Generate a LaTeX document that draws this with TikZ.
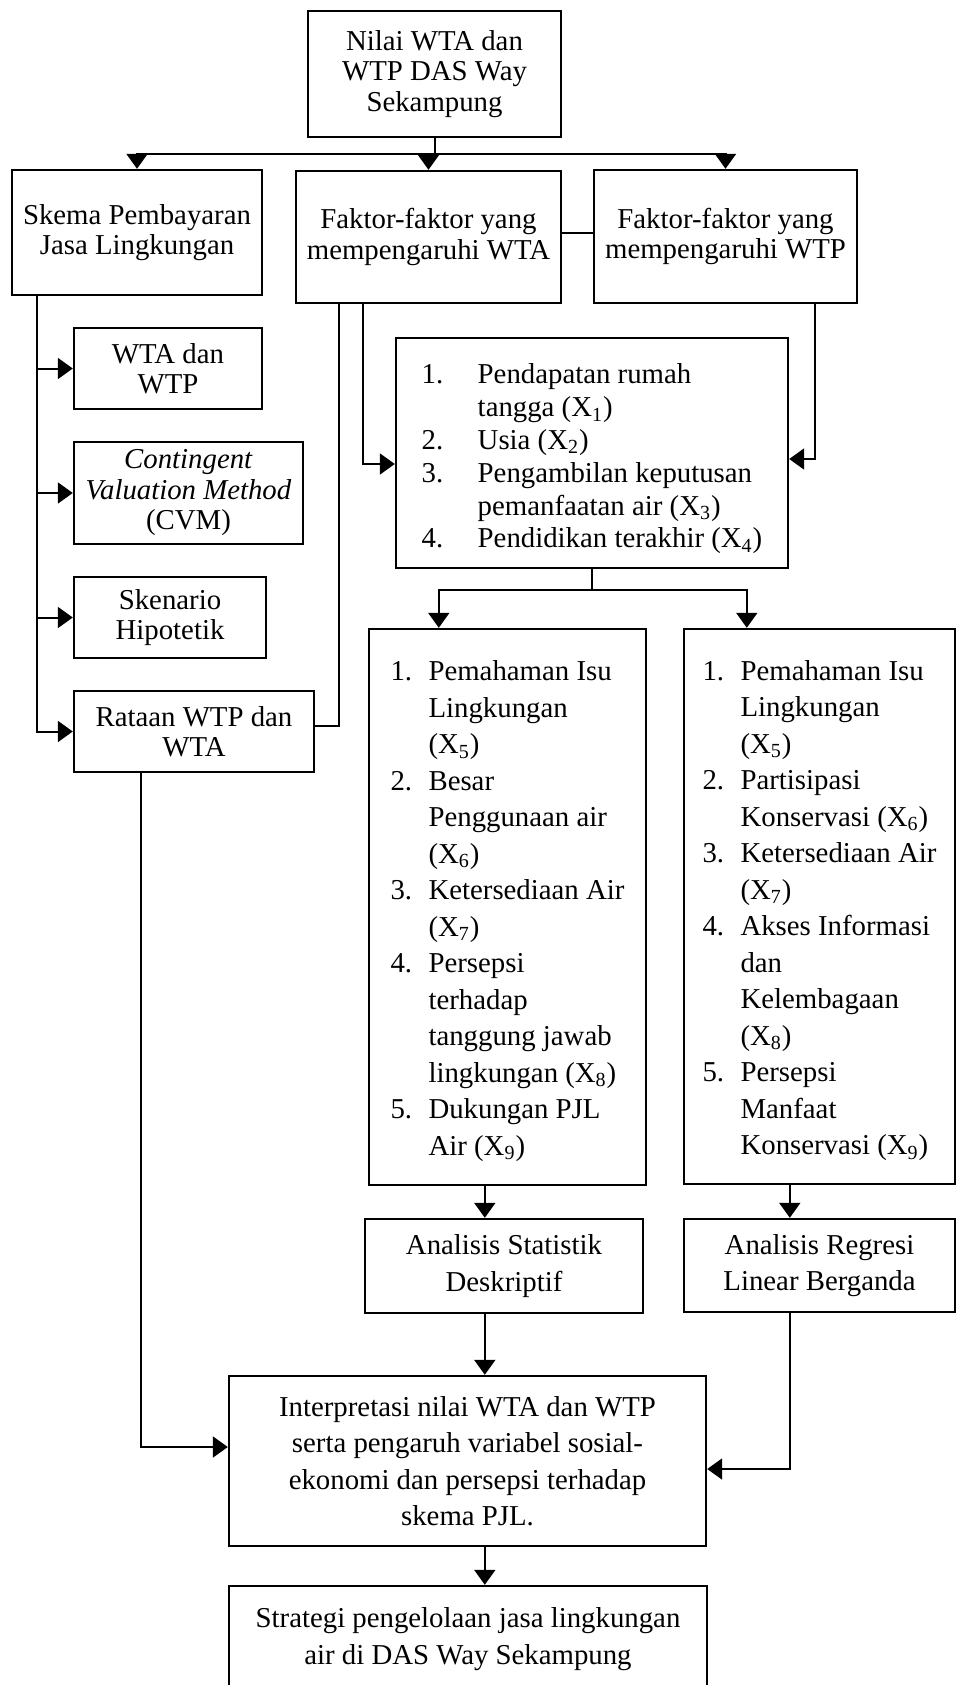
\documentclass[tikz,border=0pt]{standalone}
\usepackage{fontspec}
\setmainfont{Liberation Serif}
\usetikzlibrary{arrows.meta,calc}
\newcommand\fsA{\fontsize{14.4}{15.25}\selectfont}
\newcommand\fsB{\fontsize{14.4}{16.4}\selectfont}
\newcommand\fsC{\fontsize{14.4}{18.25}\selectfont}
\newcommand\itmL[1]{\makebox[28pt][l]{#1.}}
\newcommand\itmM[1]{\makebox[19pt][l]{#1.}}
\newcommand\indL{\hspace*{28pt}}
\newcommand\indM{\hspace*{19pt}}
\newcommand\Xs[1]{(X\textsubscript{#1})}
\begin{document}
\begin{tikzpicture}[x=0.5pt,y=-0.5pt,
  box/.style={draw, line width=1.2pt, inner sep=0pt, align=center, font=\fsA},
  listbox/.style={box, align=left},
  conn/.style={line width=1pt},
  arr/.style={conn, -{Triangle[length=7.5pt,width=10.5pt]}}]
\useasboundingbox (0,0) rectangle (956,1685);

% nodes
\node[box, minimum width=126.5pt, minimum height=63pt] (T) at (434.5,74)
  {Nilai WTA dan\\WTP DAS Way\\Sekampung};
\node[box, minimum width=125pt, minimum height=62.5pt] (S) at (137,232.5)
  {Skema Pembayaran\\Jasa Lingkungan};
\node[box, minimum width=132.5pt, minimum height=66pt] (A) at (428.5,237)
  {Faktor-faktor yang\\mempengaruhi WTA};
\node[box, minimum width=131.5pt, minimum height=66.5pt] (P) at (725.5,236.5)
  {Faktor-faktor yang\\mempengaruhi WTP};
\node[box, minimum width=94pt, minimum height=40.5pt] (W1) at (168,368.5)
  {WTA dan\\WTP};
\node[box, minimum width=114.5pt, minimum height=51pt] (W2) at (188.5,493)
  {\textit{Contingent}\\\textit{Valuation Method}\\(CVM)};
\node[box, minimum width=96pt, minimum height=40.5pt] (W3) at (170,617.5)
  {Skenario\\Hipotetik};
\node[box, minimum width=120pt, minimum height=40.5pt] (W4) at (194,731.5)
  {Rataan WTP dan\\WTA};
\node[listbox, font=\fsB, minimum width=196pt, minimum height=115pt] (L) at (592,453)
  {\rule{0pt}{16pt}\itmL{1}Pendapatan rumah\\
   \indL tangga \Xs{1}\\
   \itmL{2}Usia \Xs{2}\\
   \itmL{3}Pengambilan keputusan\\
   \indL pemanfaatan air \Xs{3}\\
   \itmL{4}Pendidikan terakhir \Xs{4}};
\node[listbox, font=\fsC, minimum width=138.5pt, minimum height=278pt] (M1) at (507.5,907)
  {\rule{0pt}{14pt}\itmM{1}Pemahaman Isu\\
   \indM Lingkungan\\
   \indM \Xs{5}\\
   \itmM{2}Besar\\
   \indM Penggunaan air\\
   \indM \Xs{6}\\
   \itmM{3}Ketersediaan Air\\
   \indM \Xs{7}\\
   \itmM{4}Persepsi\\
   \indM terhadap\\
   \indM tanggung jawab\\
   \indM lingkungan \Xs{8}\\
   \itmM{5}Dukungan PJL\\
   \indM Air \Xs{9}};
\node[listbox, font=\fsC, minimum width=135.5pt, minimum height=277.5pt] (M2) at (819.5,906.5)
  {\rule{0pt}{14pt}\itmM{1}Pemahaman Isu\\
   \indM Lingkungan\\
   \indM \Xs{5}\\
   \itmM{2}Partisipasi\\
   \indM Konservasi \Xs{6}\\
   \itmM{3}Ketersediaan Air\\
   \indM \Xs{7}\\
   \itmM{4}Akses Informasi\\
   \indM dan\\
   \indM Kelembagaan\\
   \indM \Xs{8}\\
   \itmM{5}Persepsi\\
   \indM Manfaat\\
   \indM Konservasi \Xs{9}};
\node[box, font=\fsC, minimum width=139pt, minimum height=47pt] (ST) at (504,1266)
  {Analisis Statistik\\Deskriptif};
\node[box, font=\fsC, minimum width=135.5pt, minimum height=46.5pt] (RG) at (819.5,1265.5)
  {Analisis Regresi\\Linear Berganda};
\node[box, font=\fsC, minimum width=238.5pt, minimum height=85pt] (IN) at (467.5,1461)
  {Interpretasi nilai WTA dan WTP\\serta pengaruh variabel sosial-\\ekonomi dan persepsi terhadap\\skema PJL.};
\node[box, font=\fsC, minimum width=239pt, minimum height=53pt] (SG) at (468,1639)
  {Strategi pengelolaan jasa lingkungan\\air di DAS Way Sekampung};

% top distribution
\coordinate (tbar) at ($(T.south)+(0,16)$);
\draw[conn] (T.south) -- (tbar);
\draw[arr] (tbar) -| (S.north);
\draw[arr] (tbar) -| (P.north);
\draw[arr] (tbar -| A.north) -- (A.north);
% A - P link
\coordinate (ap) at ($(A.east)+(0,-4)$);
\draw[conn] (ap) -- (ap -| P.west);
% Skema trunk
\coordinate (sk) at ($(S.south west)+(26,0)$);
\draw[arr] (sk) |- (W4.west);
\foreach \n in {W1,W2,W3} \draw[arr] (sk |- \n.west) -- (\n.west);
% from A
\coordinate (a1) at ($(A.south west)+(44,0)$);
\coordinate (a2) at ($(A.south west)+(68,0)$);
\coordinate (w4e) at ($(W4.east)+(0,-5.5)$);
\draw[conn] (a1) |- (w4e);
\coordinate (le) at ($(L.west)+(0,11)$);
\draw[arr] (a2) |- (le);
% from P
\coordinate (p1) at ($(P.south west)+(222,0)$);
\coordinate (lr) at ($(L.east)+(0,6)$);
\draw[arr] (p1) |- (lr);
% L to M1, M2
\coordinate (lbar) at ($(L.south)+(0,21)$);
\coordinate (m1t) at ($(M1.north west)+(71,0)$);
\coordinate (m2t) at ($(M2.north west)+(64,0)$);
\draw[conn] (L.south) -- (lbar);
\draw[arr] (lbar) -| (m1t);
\draw[arr] (lbar) -| (m2t);
% M to analyses
\coordinate (m1b) at ($(M1.south west)+(117,0)$);
\draw[arr] (m1b) -- (m1b |- ST.north);
\coordinate (m2b) at ($(M2.south west)+(107,0)$);
\draw[arr] (m2b) -- (m2b |- RG.north);
% to IN
\coordinate (stb) at ($(ST.south west)+(121,0)$);
\draw[arr] (stb) -- (stb |- IN.north);
\coordinate (w4b) at ($(W4.south west)+(68,0)$);
\coordinate (inl) at ($(IN.west)+(0,-14)$);
\draw[arr] (w4b) |- (inl);
\coordinate (rgb) at ($(RG.south west)+(107,0)$);
\coordinate (inr) at ($(IN.east)+(0,8)$);
\draw[arr] (rgb) |- (inr);
% IN to SG
\coordinate (inb) at ($(IN.south west)+(257,0)$);
\draw[arr] (inb) -- (inb |- SG.north);
\end{tikzpicture}
\end{document}
